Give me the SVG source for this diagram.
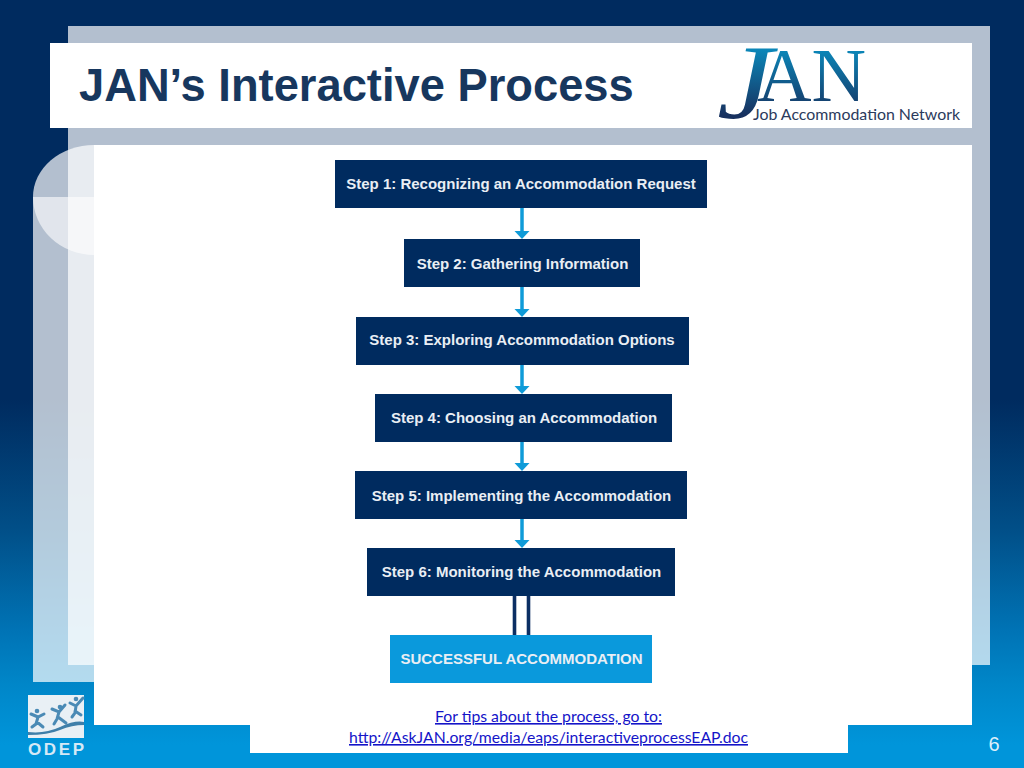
<svg xmlns="http://www.w3.org/2000/svg" width="1024" height="768" viewBox="0 0 1024 768">
<style>
.step{fill:#002b5f}
.label{font-family:"Liberation Sans",Arial,sans-serif;font-weight:700;font-size:15px;fill:#e9eef4;text-anchor:middle}
.conn{stroke:#0f9bd8;stroke-width:3.500;fill:none}
.head{fill:#0f9bd8}
.dbl{stroke:#0b2e63;stroke-width:3.600;fill:none}
.link{font-family:Lato,"Open Sans",sans-serif;font-size:16px;fill:#1414c8;text-decoration:underline}
</style>
<defs>
<linearGradient id="bg" x1="0" y1="0" x2="0" y2="1">
<stop offset="0" stop-color="#002b5f"/><stop offset="0.52" stop-color="#002b5f"/><stop offset="0.69" stop-color="#014f88"/><stop offset="0.82" stop-color="#0073b5"/><stop offset="0.89" stop-color="#0086c8"/><stop offset="0.97" stop-color="#0095da"/><stop offset="1" stop-color="#0095da"/>
</linearGradient>
<linearGradient id="jan" gradientUnits="userSpaceOnUse" x1="0" y1="50" x2="0" y2="115">
<stop offset="0" stop-color="#0b86b8"/><stop offset="1" stop-color="#17315f"/>
</linearGradient>
</defs>
<rect width="1024" height="768" fill="url(#bg)"/>
<rect x="68" y="26" width="922" height="639" fill="#fff" fill-opacity="0.7"/>
<path d="M33,682 V197 A61,52 0 0 1 94,145 V682 Z" fill="#fff" fill-opacity="0.7"/>
<path d="M33,197 A61,58 0 0 0 94,255 V197 Z" fill="#fff" fill-opacity="0.6"/>
<rect x="94" y="145" width="878" height="580" fill="#fff"/>
<rect x="250" y="725" width="598" height="28" fill="#fff"/>
<rect x="50" y="43" width="922" height="85" fill="#fff"/>
<g id="title"><text x="79" y="101" font-family="'Liberation Sans',Arial,sans-serif" font-weight="700" font-size="45.300" fill="#17375e">JAN’s Interactive Process</text></g>
<g id="jan-logo">
<text x="717" y="118" font-family="'Liberation Serif',serif" font-size="106" font-style="italic" fill="url(#jan)" textLength="56" lengthAdjust="spacingAndGlyphs">J</text>
<text x="757" y="101" font-family="'Liberation Serif',serif" font-size="77" fill="url(#jan)" textLength="109" lengthAdjust="spacingAndGlyphs">AN</text>
<text x="753" y="120" font-family="Lato,'Noto Sans',sans-serif" font-size="15" fill="#2b3a5c" textLength="207" lengthAdjust="spacingAndGlyphs">Job Accommodation Network</text>
</g>
<g id="connectors">
<path class="conn" d="M522,208V232"/><path class="head" d="M514.500,231H529.500L522,239Z"/>
<path class="conn" d="M522,287V310"/><path class="head" d="M514.500,309H529.500L522,317Z"/>
<path class="conn" d="M522,365V387"/><path class="head" d="M514.500,386H529.500L522,394Z"/>
<path class="conn" d="M522,442V464"/><path class="head" d="M514.500,463H529.500L522,471Z"/>
<path class="conn" d="M522,519V541"/><path class="head" d="M514.500,540H529.500L522,548Z"/>
<path class="dbl" d="M514.500,596V635M528.500,596V635"/>
</g>
<g id="step1"><rect class="step" x="335" y="160" width="372" height="48"/><text class="label" x="521" y="189">Step 1: Recognizing an Accommodation Request</text></g>
<g id="step2"><rect class="step" x="404" y="239" width="236" height="48"/><text class="label" x="522.500" y="269">Step 2: Gathering Information</text></g>
<g id="step3"><rect class="step" x="356" y="317" width="333" height="48"/><text class="label" x="522" y="345">Step 3: Exploring Accommodation Options</text></g>
<g id="step4"><rect class="step" x="375" y="394" width="297" height="48"/><text class="label" x="524" y="423">Step 4: Choosing an Accommodation</text></g>
<g id="step5"><rect class="step" x="355" y="471" width="332" height="48"/><text class="label" x="521.500" y="501">Step 5: Implementing the Accommodation</text></g>
<g id="step6"><rect class="step" x="367" y="548" width="308" height="48"/><text class="label" x="521.500" y="577">Step 6: Monitoring the Accommodation</text></g>
<g id="success"><rect x="390" y="635" width="262" height="48" fill="#0a99dc"/><text class="label" x="521.500" y="664">SUCCESSFUL ACCOMMODATION</text></g>
<g id="note">
<text class="link" x="435" y="722" textLength="227" lengthAdjust="spacingAndGlyphs">For tips about the process, go to:</text>
<text class="link" x="349" y="743" textLength="399" lengthAdjust="spacingAndGlyphs">http://AskJAN.org/media/eaps/interactiveprocessEAP.doc</text>
</g>
<g id="odep-logo">
<rect x="28" y="695" width="56" height="43" fill="#e9f0f5"/>
<path d="M28,732 Q45,734 60,727 T84,722 V725 Q72,725 60,730 T28,735Z" fill="#3f7fa9"/>
<g stroke="#4a8ab5" stroke-width="3" fill="none" stroke-linecap="round">
<path d="M31,714L38,717L44,714M38,717L36,724L32,727M37,722L43,727"/>
<path d="M52,709L59,712L65,705M59,712L57,719L54,724M58,717L66,723"/>
<path d="M70,703L76,706L83,698M76,706L75,713L72,717M75,711L81,715"/>
</g>
<g fill="#4a8ab5"><circle cx="37" cy="711" r="2.300"/><circle cx="60" cy="707" r="2.300"/><circle cx="76" cy="699" r="2.300"/></g>
<text x="28" y="755" font-family="'Liberation Sans',Arial,sans-serif" font-weight="700" font-size="17" fill="#d5e9f6" textLength="56">ODEP</text>
</g>
<g id="page"><text x="994" y="751" font-family="'Liberation Sans',Arial,sans-serif" font-size="20" fill="#dceffa" text-anchor="middle">6</text></g>
</svg>
